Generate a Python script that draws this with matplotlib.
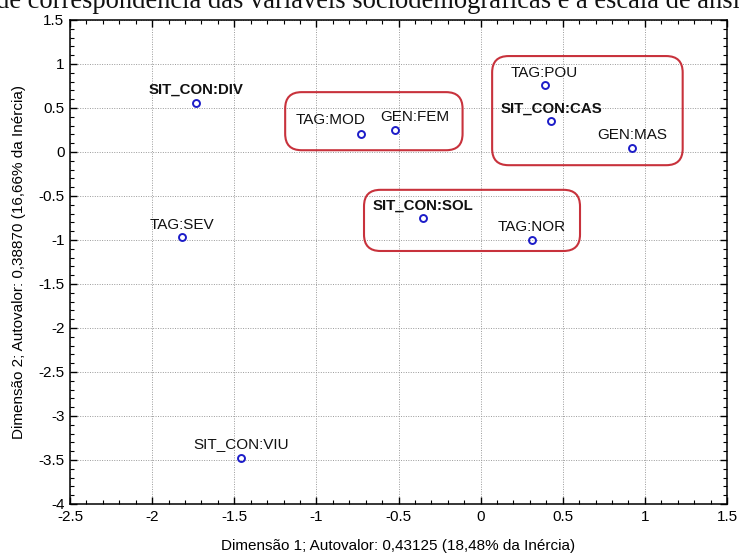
import matplotlib
matplotlib.use("Agg")
import matplotlib.pyplot as plt
import matplotlib.patches as mpatches
from matplotlib.ticker import MultipleLocator

# Coordinates of the categories on the two first dimensions
labels = ["SIT_CON:DIV", "TAG:MOD", "GEN:FEM", "TAG:POU", "SIT_CON:CAS",
          "GEN:MAS", "SIT_CON:SOL", "TAG:NOR", "TAG:SEV", "SIT_CON:VIU"]
dim1 = [-1.73, -0.73, -0.52, 0.39, 0.43, 0.92, -0.35, 0.31, -1.82, -1.46]
dim2 = [0.56, 0.20, 0.25, 0.76, 0.35, 0.05, -0.75, -1.00, -0.97, -3.48]

x_ticks = [-2.5, -2, -1.5, -1, -0.5, 0, 0.5, 1, 1.5]
y_ticks = [1.5, 1, 0.5, 0, -0.5, -1, -1.5, -2, -2.5, -3, -3.5, -4]

xlabel = "Dimensão 1; Autovalor: 0,43125 (18,48% da Inércia)"
ylabel = "Dimensão 2; Autovalor: 0,38870 (16,66% da Inércia)"
caption = "de correspondência das variáveis sociodemográficas e a escala de ansiedade"

# label offsets in points (dx, dy) and weights
offsets = [(0, 9), (-22, 10), (14, 9), (0, 9), (0, 9),
           (0, 9), (0, 9), (0, 9), (0, 9), (0, 10)]
bold = {"SIT_CON:DIV", "SIT_CON:CAS", "SIT_CON:SOL"}

# groups highlighted with rounded boxes: (x0, y0, x1, y1)
groups = [(-1.19, 0.02, -0.11, 0.68),
          (0.07, -0.15, 1.23, 1.09),
          (-0.71, -1.125, 0.605, -0.43)]

plt.rcParams["font.family"] = ["Liberation Sans", "DejaVu Sans"]

fig = plt.figure(figsize=(7.39, 5.55), dpi=100)
ax = fig.add_axes([0.0947, 0.0919, 0.8891, 0.8721])

ax.set_xlim(x_ticks[0], x_ticks[-1])
ax.set_ylim(y_ticks[-1], y_ticks[0])
ax.set_xticks(x_ticks)
ax.set_yticks(y_ticks)
ax.set_xticklabels([f"{v:g}" for v in x_ticks])
ax.set_yticklabels([f"{v:g}" for v in y_ticks])
ax.xaxis.set_minor_locator(MultipleLocator(0.1))
ax.yaxis.set_minor_locator(MultipleLocator(0.1))
ax.tick_params(which="both", direction="in", top=True, right=True,
               labelsize=11, pad=4)
ax.tick_params(which="major", length=5, width=1)
ax.tick_params(which="minor", length=3, width=0.8)
ax.grid(True, which="major", color="#9a9a9a", linestyle=(0, (1, 1.5)), lw=0.7)
for spine in ax.spines.values():
    spine.set_linewidth(1.1)

ax.plot(dim1, dim2, "o", ms=5, mfc="none", mec="#1c1cc8", mew=1.4, zorder=4)

for name, x, y, (dx, dy) in zip(labels, dim1, dim2, offsets):
    ax.annotate(name, (x, y), xytext=(dx, dy), textcoords="offset points",
                ha="center", va="center",
                fontsize=10.8 if name in bold else 11,
                fontweight="bold" if name in bold else "normal",
                color="#111111", zorder=5)

# rounded boxes around groups (aspect fix keeps corners circular on screen)
x_px = 0.8891 * 739 / (x_ticks[-1] - x_ticks[0])
y_px = 0.8721 * 555 / (y_ticks[0] - y_ticks[-1])
for x0, y0, x1, y1 in groups:
    box = mpatches.FancyBboxPatch(
        (x0, y0), x1 - x0, y1 - y0,
        boxstyle="round,pad=0,rounding_size=0.1",
        mutation_aspect=x_px / y_px,
        fill=False, edgecolor="#c8323c", linewidth=1.5, zorder=3,
    )
    ax.add_patch(box)

ax.set_xlabel(xlabel, fontsize=11, labelpad=11)
ax.set_ylabel(ylabel, fontsize=11, labelpad=9)

fig.text(-0.005, 1 - 8 / 555, caption, family=["Liberation Serif", "DejaVu Serif"],
         fontsize=19.1, va="baseline", ha="left", color="#111111")

fig.savefig("out.png", dpi=100, facecolor="white")
